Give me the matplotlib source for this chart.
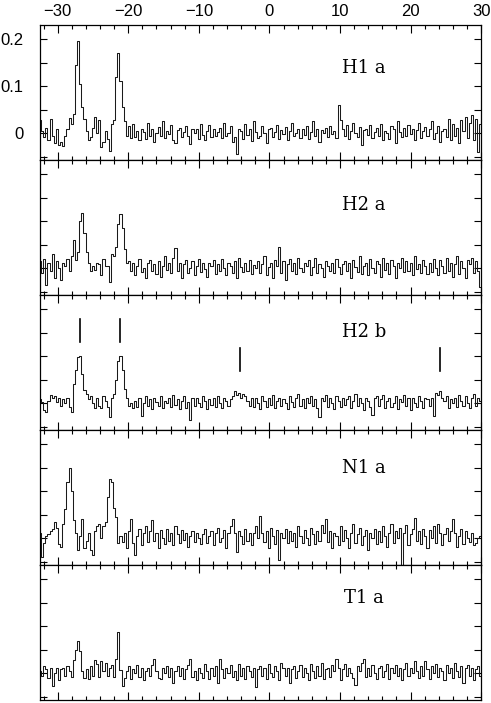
import matplotlib
matplotlib.use("Agg")
import matplotlib.pyplot as plt
import numpy as np

# channel grid (km/s)
v_start = -32.5
v_step = 0.3

# spectra in units of 1e-3
h1a = [28, 5, -8, 12, -15, 30, -5, -20, 8, -25, -18, -28, -5, 10, 32, 20,
       40, 145, 195, 105, 55, 30, 5, -15,
       -8, 12, 35, 0, 28, -30, -18, 5, -12, -38, 20, 28, 120, 170, 110, 55, 25, -5, 15, -10,
       20, -8, 5, -15, 10, 3, -12, 22, -5, 8, -18, 0, 14, -6, 25, -10, 4, -2, 18, -14,
       -20, 6, 12, -8, 2, 15, -5, -22, 10, 0, 8, -12, 20, -3, -15, 5, 18, -8, 10, -5,
       3, 12, -10, 22, -6, 0, 15, -18, -8, -45, 10, 5, -12, 20, -4, 8, -16, 25, 2, -10,
       -5, 15, 0, -20, 8, 12, -8, 3, 18, -12, 6, -2, 14, -15, 5, 22, -6, 0, 10, -10,
       8, -4, 16, -12, 2, 25, -5, 10, -18, 6, 0, 12, -8, 15, -2, 5, -10, 60, 28, 10,
       -5, 18, -12, 4, 22, 0, -8, 14, -25, 6, 10, -3, 18, -10, 2, 12, -6, 20, -15, 5,
       0, -12, 15, 8, -20, 25, 3, -8, 12, -5, 18, -2, 10, -15, 6, 22, -10, 4, 14, -6,
       8, 25, -12, 0, 15, -18, 5, 10, -8, 30, -15, 20, -5, 12, -20, 28, 5, 35, -10, 22,
       38, -15, 30, -40, 20]

h2a = [15, -10, 20, -35, 10, -5, 30, -20, 15, 0, -25, 12, 5, 20, -5, 25,
       60, 18, 35, 100, 117, 75, 35, 10, -5, 5, -3, 12, 8, -15, 20, 5, 5, -30,
       30, 25, 45, 95, 115, 85, 40, 10, 15, -5,
       10, -15, 5, 20, -8, 0, -20, 12, 18, -5, 8, -12, 15, -18, 5, 25, -3, 10, -10, 22,
       43, -5, 12, -20, 8, 18, -10, 0, 15, -15, 5, 20, -8, 12, -2, -18, 10, 5, 18, -12,
       8, -5, 20, 0, -15, 10, 5, -10, 15, -20, 22, 3, -8, 12, -5, 18, -12, 6, 0, 15,
       -10, 8, 25, -15, 2, 12, -20, 18, 5, 45, -10, 15, -25, 8, 20, -5, 10, -12, 22, 0,
       -8, 12, 5, 18, -15, 3, 22, -10, 8, 0, -18, 15, 5, -5, 12, -10, 20, 2, -12, 8,
       15, -5, 10, -20, 18, 3, -8, 25, -12, 5, 12, -15, 20, 0, -10, 15, 8, -18, 22, -3,
       10, -12, 18, 5, -20, 12, 0, 22, -8, 15, -5, 10, -15, 25, -2, 8, -10, 18, 5, -12,
       12, -8, 20, 0, -15, 18, 5, -10, 22, -5, 12, -18, 8, 25, -12, 15, 0, -20, 18, 8,
       22, -10, 15, -5, -40]

h2b = [8, 2, -15, -18, 5, 18, 10, 15, 2, 10, -5, 8, 0, 12, -8, -18,
       40, 70, 98, 100, 62, 28, 20, 8, 15, 0, -10, 12, -5, -10, 15, 5, -8, -30,
       10, 20, 50, 90, 100, 70, 30, 10, -5, 0, -10,
       5, -8, 12, -28, 0, 15, -5, 8, -12, 10, 3, -6, 15, -10, 5, 0, 12, -8, 18, -3,
       8, -12, 5, 15, -10, 2, -35, 10, -5, 12, 0, -8, 15, 5, -12, 8, -3, 10, -8, 15,
       0, -10, 12, 5, -5, 8, 15, 25, 18, 22, 10, 20, 15, 5, -5, 10, -8, 12, 0, -12,
       15, 5, -8, 10, -3, 18, -10, 5, 12, -6, 8, 0, -12, 15, 3, -8, 10, 20, -5, 8,
       -10, 12, 0, 15, -5, 8, -10, -30, 12, 5, 18, -8, 10, 0, -12, 15, 5, -8, 12, -3,
       8, 15, -10, 5, 20, -5, 10, 0, -15, 12, 5, -8, -25, 10, 15, -5, 8, 18, -10, 5,
       12, -8, 0, 15, -12, 8, 3, 18, -5, 10, -15, 12, 0, -8, 15, 5, -10, 12, 8, -5,
       10, -28, 22, 18, 25, 12, 5, 15, -10, 8, 0, 12, -8, 18, 5, -5, 15, 0, -10, 12,
       20, -5, 10, 5]

n1a = [10, -40, -10, 5, 8, 15, 20, 35, 22, -12, -18, 30, 62, 120, 149, 100, 38, 10, -25, 5,
       40, -20, -5, 10, -25, -35, 15, 25, 30, 0, 25, 35, 88, 125, 120, 65, 45, -10, 5, -8,
       12, -20, 15, 40, -10, -35, 5, 20, -15, 10, 25, -8, 15, 38, -5, 12, -20, 18, 0, -12,
       20, -5, 10, -15, 25, 8, -10, 18, -3, 12, -18, 5, 15, -8, 10, 0, -12, 8, 20, -10,
       5, 15, -15, 10, 22, -8, 0, 18, -20, 12, 25, 40, 10, -30, 15, 5, -12, 20, -5, 10,
       -15, 12, 25, 0, 47, 10, -8, 15, -20, 22, 5, -12, 18, -47, 10, 0, 20, -10, 15, -5,
       12, -18, 25, 5, -10, 18, 0, -15, 22, 8, -12, 15, -5, 28, 10, 40, -8, 15, -20, 12,
       5, -15, 25, -5, 18, 0, -20, 12, 30, -10, 8, 22, -15, 5, 18, -25, 10, 0, 20, -12,
       15, -8, 25, 5, -18, 10, 30, -10, 15, 0, 22, -60, 12, 28, -15, 8, 20, 42, -5, 15,
       -12, 20, 5, -20, 18, 0, 25, -10, 30, 12, -15, 8, 22, -5, 15, 40, 10, -18, 5, 20,
       -12, 15, 0, -8, 10, -15, -10, 0, 5]

t1a = [5, -5, 15, 8, -10, 12, -28, 0, 10, -15, 8, 12, -5, 15, 5, -8,
       28, 50, 69, 48, 5, -10, 8, -12, 15, -5, 28, 20, -8, 25, 5, 22, -5, 10, 18, -8,
       30, 87, 6, -28, -10,
       5, 15, -12, 8, 0, 18, -8, 12, -15, 5, 10, -5, 18, 30, 5, -10, -12, 10, 0, 15,
       -8, 12, -20, 5, 15, -5, 10, -12, 8, 18, 30, -8, 5, -15, 12, 0, -10, 20, 5, -12,
       10, -5, 15, -20, 30, 8, -10, 12, 0, 18, -8, 5, -15, 20, -5, 10, -12, 15, 5, -8,
       12, -30, 8, 15, -5, 10, -12, 20, 0, -8, 15, 5, -15, 22, 10, -5, 12, -20, 8, 15,
       -10, 5, 18, -8, 12, 0, -15, 20, 5, -10, 15, -5, 22, -12, 8, 12, -8, 18, 5, 30,
       10, -15, 8, 20, -5, 12, 0, -10, -26, 15, 5, 22, 30, -8, 12, -5, 18, 0, -12, 10,
       15, -8, 5, 20, -12, 10, 0, 18, -5, 12, -15, 8, 22, -5, 10, 0, 25, 5, -10, 15,
       -5, 25, 8, -12, 15, 0, 20, -8, 12, 5, -15, 18, 0, 10, -10, 22, 5, -8, 15, -20,
       10, 18, -5, 12, -15, 8, 15, -5]

spectra = [h1a, h2a, h2b, n1a, t1a]
names = ["H1 a", "H2 a", "H2 b", "N1 a", "T1 a"]
name_y = [0.138, 0.134, 0.152, 0.149, 0.160]

# line markers on the H2 b panel: (velocity, bottom, top)
marks = [(-26.9, 0.130, 0.180), (-21.2, 0.130, 0.180),
         (-4.1, 0.068, 0.117), (24.2, 0.068, 0.117)]

fig, axes = plt.subplots(5, 1, figsize=(4.91, 7.03), dpi=100, sharex=True)
fig.subplots_adjust(left=0.0815, right=0.98, top=0.9644, bottom=0.0043, hspace=0)

for k, ax in enumerate(axes):
    y = np.array(spectra[k]) / 1000.0
    v = v_start + v_step * np.arange(len(y))
    ax.step(v, y, where="mid", color="#1a1a1a", lw=0.75)
    ax.set_xlim(-32.5, 30.0)
    ax.set_ylim(-0.057, 0.23)
    ax.text(13.4, name_y[k], names[k], ha="center", va="center",
            family="DejaVu Serif", fontsize=13)

    ax.set_xticks(np.arange(-30, 31, 10))
    ax.set_xticks(np.arange(-32, 31, 2), minor=True)
    ax.set_yticks([-0.05, 0, 0.05, 0.1, 0.15, 0.2])
    ax.tick_params(which="both", direction="in", top=True, right=True,
                   labelbottom=False, labelleft=False)
    ax.tick_params(axis="x", which="major", length=6, width=0.8)
    ax.tick_params(axis="x", which="minor", length=3, width=0.8)
    ax.tick_params(axis="y", length=5, width=0.8)
    for s in ax.spines.values():
        s.set_linewidth(0.9)

top = axes[0]
top.tick_params(axis="x", which="major", labeltop=True, pad=4, labelsize=12)
top.tick_params(axis="y", labelleft=True, pad=12, labelsize=12)
top.set_yticklabels(["", "0", "", "0.1", "", "0.2"])
for lab in top.get_xticklabels() + top.get_yticklabels():
    lab.set_family("Liberation Sans")

for xm, y0, y1 in marks:
    axes[2].plot([xm, xm], [y0, y1], color="black", lw=1.2)

fig.savefig("out.png", dpi=100)
